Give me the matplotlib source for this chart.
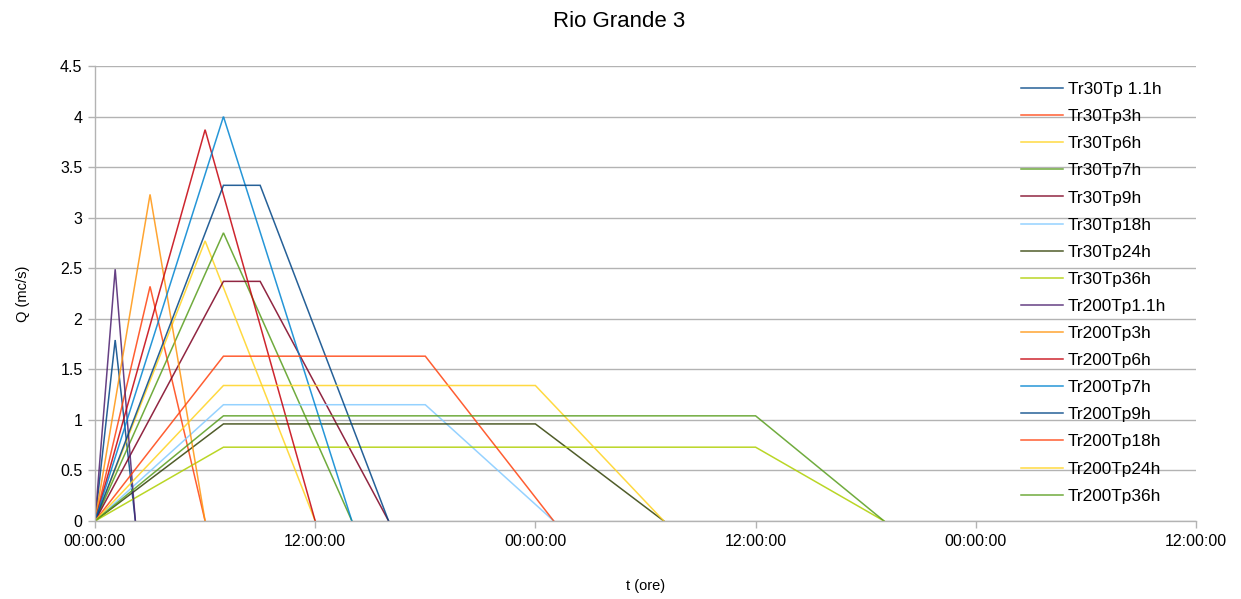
import matplotlib
matplotlib.use("Agg")
import matplotlib.pyplot as plt

plt.rcParams["font.family"] = ["Liberation Sans", "DejaVu Sans"]

# Hydrograph series: name, peak discharge (m3/s) and vertex times (hours)
labels = [
    "Tr30Tp 1.1h", "Tr30Tp3h", "Tr30Tp6h", "Tr30Tp7h", "Tr30Tp9h",
    "Tr30Tp18h", "Tr30Tp24h", "Tr30Tp36h",
    "Tr200Tp1.1h", "Tr200Tp3h", "Tr200Tp6h", "Tr200Tp7h", "Tr200Tp9h",
    "Tr200Tp18h", "Tr200Tp24h", "Tr200Tp36h",
]
peaks = [1.79, 2.32, 2.77, 2.85, 2.37, 1.15, 0.96, 0.73,
         2.49, 3.23, 3.87, 4.00, 3.32, 1.63, 1.34, 1.04]
# time at which the peak is reached
t_peak = [1.1, 3, 6, 7, 7, 7, 7, 7,
          1.1, 3, 6, 7, 7, 7, 7, 7]
# time at which the plateau ends (equal to t_peak for triangular shapes)
t_flat_end = [1.1, 3, 6, 7, 9, 18, 24, 36,
              1.1, 3, 6, 7, 9, 18, 24, 36]
# time at which discharge returns to zero
t_end = [2.2, 6, 12, 14, 16, 25, 31, 43,
         2.2, 6, 12, 14, 16, 25, 31, 43]

colors = ["#004586", "#ff420e", "#ffd320", "#579d1c", "#7e0021", "#83caff",
          "#314004", "#aecf00", "#4b1f6f", "#ff950e", "#c5000b", "#0084d1",
          "#004586", "#ff420e", "#ffd320", "#579d1c"]

x_ticks = [0, 12, 24, 36, 48, 60]
x_ticklabels = ["00:00:00", "12:00:00", "00:00:00", "12:00:00", "00:00:00", "12:00:00"]
y_ticks = [0, 0.5, 1, 1.5, 2, 2.5, 3, 3.5, 4, 4.5]
y_ticklabels = ["0", "0.5", "1", "1.5", "2", "2.5", "3", "3.5", "4", "4.5"]

fig = plt.figure(figsize=(12.41, 5.99), dpi=100)
ax = fig.add_axes([95 / 1241, 78 / 599, (1196 - 95) / 1241, (521 - 66) / 599])

for name, q, tp, tf, te, c in zip(labels, peaks, t_peak, t_flat_end, t_end, colors):
    ax.plot([0, tp, tf, te], [0, q, q, 0], color=c, lw=1.1, alpha=0.85,
            label=name, solid_joinstyle="miter")

ax.set_xlim(0, 60)
ax.set_ylim(0, 4.5)
ax.set_xticks(x_ticks)
ax.set_xticklabels(x_ticklabels)
ax.set_yticks(y_ticks)
ax.set_yticklabels(y_ticklabels)

ax.grid(axis="y", color="#b3b3b3", lw=1.0)
ax.set_axisbelow(True)
for side in ("top", "right"):
    ax.spines[side].set_visible(False)
for side in ("left", "bottom"):
    ax.spines[side].set_color("#b3b3b3")
    ax.spines[side].set_linewidth(1.0)
ax.tick_params(axis="both", color="#b3b3b3", length=5, width=1.0,
               labelsize=11.5, labelcolor="#000000", pad=4)

fig.suptitle("Rio Grande 3", fontsize=16, x=0.4985, y=1 - 11 / 599, va="top")
ax.set_xlabel("t (ore)", fontsize=10.5, labelpad=22)
ax.set_ylabel("Q (mc/s)", fontsize=10.5, labelpad=22)

leg = ax.legend(loc="upper left", bbox_to_anchor=(1021 / 1241, 1 - 82 / 599),
                bbox_transform=fig.transFigure, frameon=False, fontsize=12.4,
                handlelength=2.45, handletextpad=0.25, labelspacing=0.70,
                borderaxespad=0, borderpad=0)

fig.savefig("out.png", dpi=100)
